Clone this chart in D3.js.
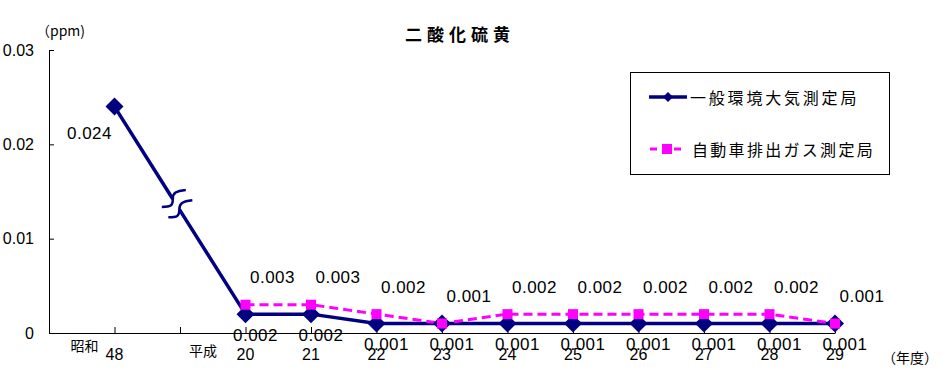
<!DOCTYPE html>
<html><head><meta charset="utf-8">
<script src="https://cdn.jsdelivr.net/npm/d3@7"></script>
<style>
body{margin:0;background:#fff;}
text{font-family:"Liberation Sans","Noto Sans CJK JP",sans-serif;}
.jp{font-family:"Noto Sans CJK JP",sans-serif;}
</style></head>
<body><svg id="c" width="950" height="370"></svg>
<script>
const categories = ["48","","20","21","22","23","24","25","26","27","28","29"];
const eraLabels = ["昭和","平成"];
const general = [0.024,null,0.002,0.002,0.001,0.001,0.001,0.001,0.001,0.001,0.001,0.001];
const roadside = [null,null,0.003,0.003,0.002,0.001,0.002,0.002,0.002,0.002,0.002,0.001];
const yTicks = [0,0.01,0.02,0.03];
const seriesNames = ["一般環境大気測定局","自動車排出ガス測定局"];
const title = "二酸化硫黄";

const svg = d3.select("#c");
const navy = "#000080", pink = "#FF00FF";
const x = d3.scaleLinear().domain([0,categories.length]).range([49,835]);
const xi = i => x(i+1);
const y = d3.scaleLinear().domain([0,0.03]).range([333,50]);

// title
svg.append("text").attr("class","jp").attr("x",460).attr("y",33).attr("text-anchor","middle")
  .attr("dominant-baseline","central").attr("font-size",17).attr("font-weight","bold")
  .attr("letter-spacing",5).text(title);
svg.append("text").attr("class","jp").attr("x",36).attr("y",30).attr("dominant-baseline","central")
  .attr("font-size",14).text("（ppm)");

// axes
const yAxis = d3.axisLeft(y).tickValues(yTicks).tickSizeInner(-5).tickSizeOuter(0).tickPadding(15)
  .tickFormat(d => d===0 ? "0" : d3.format(".2f")(d));
const gy = svg.append("g").attr("transform","translate(49,0)").call(yAxis);
gy.selectAll("text").attr("font-size",16).attr("fill","#000");
gy.selectAll("line,path").attr("stroke","#000");

const xAxis = d3.axisBottom(x).tickValues(d3.range(1,categories.length+1)).tickSizeInner(-6).tickSizeOuter(0).tickFormat("");
const gx = svg.append("g").attr("transform","translate(0,333)").call(xAxis);
gx.selectAll("line,path").attr("stroke","#000");

// category labels
svg.selectAll(".cat").data(categories).join("text").attr("class","cat")
  .attr("x",(d,i)=>xi(i)).attr("y",354).attr("text-anchor","middle").attr("dominant-baseline","central")
  .attr("font-size",16).text(d=>d);
svg.append("text").attr("class","jp").attr("x",xi(0)-30).attr("y",345).attr("text-anchor","middle")
  .attr("dominant-baseline","central").attr("font-size",14).text(eraLabels[0]);
svg.append("text").attr("class","jp").attr("x",xi(1)+23).attr("y",350).attr("text-anchor","middle")
  .attr("dominant-baseline","central").attr("font-size",14).text(eraLabels[1]);
svg.append("text").attr("class","jp").attr("x",910).attr("y",357).attr("text-anchor","middle")
  .attr("dominant-baseline","central").attr("font-size",14).text("（年度）");

// general series line with break
const gpts = general.map((v,i)=>v==null?null:[xi(i),y(v)]).filter(p=>p);
const p0 = gpts[0], p1 = gpts[1];
const lerp = t => [p0[0]+(p1[0]-p0[0])*t, p0[1]+(p1[1]-p0[1])*t];
const a = lerp(0.445), b = lerp(0.495);
const line = d3.line();
svg.append("path").attr("d",line([p0,a])).attr("stroke",navy).attr("stroke-width",3.5).attr("fill","none");
svg.append("path").attr("d",line([b,...gpts.slice(1)])).attr("stroke",navy).attr("stroke-width",3.5)
  .attr("fill","none").attr("stroke-linejoin","round");
[a,b].forEach(c=>{
  const [cx,cy]=c;
  svg.append("path").attr("d",`M${cx-11},${cy+8} C${cx-2},${cy+8} ${cx},${cy+7} ${cx},${cy} C${cx},${cy-6} ${cx+3},${cy-8} ${cx+13},${cy-9}`)
    .attr("stroke",navy).attr("stroke-width",2.5).attr("fill","none");
});

// roadside line
const rdata = roadside.map((v,i)=>v==null?null:[xi(i),y(v)]).filter(p=>p);
svg.append("path").attr("d",line(rdata)).attr("stroke",pink).attr("stroke-width",3)
  .attr("stroke-dasharray","9,5").attr("fill","none");

// markers
const diamond = (cx,cy,s=9)=>`M${cx},${cy-s} L${cx+s},${cy} L${cx},${cy+s} L${cx-s},${cy} Z`;
general.forEach((v,i)=>{ if(v==null) return;
  svg.append("path").attr("d",diamond(xi(i),y(v))).attr("fill",navy);
});
roadside.forEach((v,i)=>{ if(v==null) return;
  svg.append("rect").attr("x",xi(i)-5).attr("y",y(v)-5).attr("width",10).attr("height",10).attr("fill",pink);
});

// data labels
const fmt = d3.format(".3f");
general.forEach((v,i)=>{ if(v==null) return;
  const first = i===0;
  svg.append("text").attr("x",xi(i)+(first?-25:10)).attr("y",y(v)+(first?27:21))
    .attr("text-anchor","middle").attr("dominant-baseline","central").attr("font-size",17)
    .attr("letter-spacing",0.5).text(fmt(v));
});
roadside.forEach((v,i)=>{ if(v==null) return;
  svg.append("text").attr("x",xi(i)+27).attr("y",y(v)-27)
    .attr("text-anchor","middle").attr("dominant-baseline","central").attr("font-size",17)
    .attr("letter-spacing",0.5).text(fmt(v));
});

// legend
svg.append("rect").attr("x",630.5).attr("y",72.5).attr("width",259).attr("height",102)
  .attr("fill","#fff").attr("stroke","#000").attr("stroke-width",1);
const ly1 = 97, ly2 = 149;
svg.append("line").attr("x1",649).attr("x2",687).attr("y1",ly1).attr("y2",ly1).attr("stroke",navy).attr("stroke-width",3.5);
svg.append("path").attr("d",diamond(668,ly1,5)).attr("fill",navy);
svg.append("line").attr("x1",650).attr("x2",683).attr("y1",ly2).attr("y2",ly2).attr("stroke",pink).attr("stroke-width",3).attr("stroke-dasharray","7,5");
svg.append("rect").attr("x",662).attr("y",ly2-5).attr("width",10).attr("height",10).attr("fill",pink);
svg.append("text").attr("class","jp").attr("x",690).attr("y",ly1).attr("dominant-baseline","central")
  .attr("font-size",16).attr("letter-spacing",2.8).text(seriesNames[0]);
svg.append("text").attr("class","jp").attr("x",692).attr("y",ly2).attr("dominant-baseline","central")
  .attr("font-size",16).attr("letter-spacing",2.3).text(seriesNames[1]);
</script></body></html>
